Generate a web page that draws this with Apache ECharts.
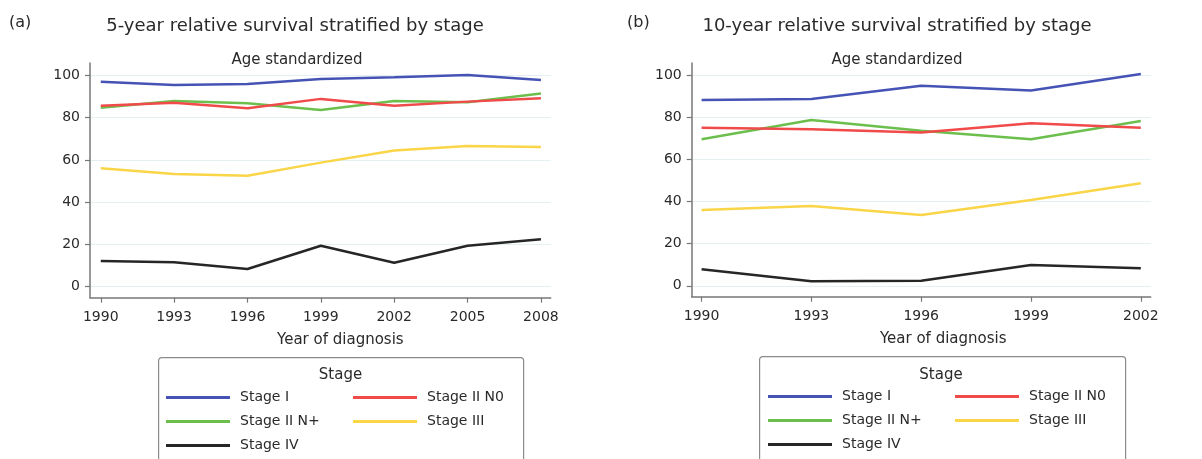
<!DOCTYPE html>
<html><head><meta charset="utf-8">
<script src="https://cdn.jsdelivr.net/npm/echarts@6/dist/echarts.min.js"></script>
<style>html,body{margin:0;padding:0;background:#fff}#c{width:1202px;height:459px}</style>
</head><body><div id="c"></div>
<script>
// ---- data ----
const stageNames = ['Stage I', 'Stage II N0', 'Stage II N+', 'Stage III', 'Stage IV'];
const yearsA = [1990, 1993, 1996, 1999, 2002, 2005, 2008];
const stageI_A   = [97.0, 95.5, 96.0, 98.3, 99.1, 100.2, 97.9];
const stageIIN0_A = [85.7, 87.1, 84.5, 88.9, 85.7, 87.6, 89.2];
const stageIINp_A = [84.7, 87.9, 86.8, 83.6, 87.9, 87.3, 91.5];
const stageIII_A = [56.0, 53.3, 52.5, 58.7, 64.4, 66.6, 66.1];
const stageIV_A  = [12.1, 11.5, 8.3, 19.3, 11.3, 19.3, 22.4];

const yearsB = [1990, 1993, 1996, 1999, 2002];
const stageI_B   = [88.4, 88.9, 95.2, 92.9, 100.8];
const stageIIN0_B = [75.2, 74.5, 72.9, 77.3, 75.2];
const stageIINp_B = [69.7, 78.9, 73.8, 69.7, 78.4];
const stageIII_B = [36.0, 37.9, 33.7, 40.8, 48.8];
const stageIV_B  = [7.9, 2.2, 2.4, 9.9, 8.3];

const yTicks = [0, 20, 40, 60, 80, 100];
const titleA = '5-year relative survival stratified by stage';
const titleB = '10-year relative survival stratified by stage';
const subTitle = 'Age standardized';
const xName = 'Year of diagnosis';
const legendTitle = 'Stage';

// ---- styles ----
const FONT = '"DejaVu Sans", sans-serif';
const colors = ['#4553b5', '#f04a4a', '#6cbf4c', '#fad548', '#262626'];
const axisCol = '#777777';
const textCol = '#2a2a2a';

const seriesA = [stageI_A, stageIIN0_A, stageIINp_A, stageIII_A, stageIV_A];
const seriesB = [stageI_B, stageIIN0_B, stageIINp_B, stageIII_B, stageIV_B];

function makeX(idx, years, min, max, namePadLeft) {
  return {
    type: 'value', gridIndex: idx, min: min, max: max,
    axisLine: { show: true, onZero: false, lineStyle: { color: axisCol, width: 1.5 } },
    axisTick: { show: true, length: 5, customValues: years, lineStyle: { color: axisCol, width: 1.2 } },
    axisLabel: { customValues: years, formatter: v => String(v), margin: 13,
      fontFamily: FONT, fontSize: 14, color: textCol },
    splitLine: { show: false },
    name: xName, nameLocation: 'middle', nameGap: 35,
    nameTextStyle: { fontFamily: FONT, fontSize: 15, color: textCol, padding: [0, 0, 0, namePadLeft] }
  };
}
function makeY(idx, min, max) {
  return {
    type: 'value', gridIndex: idx, min: min, max: max,
    axisLine: { show: true, onZero: false, lineStyle: { color: axisCol, width: 1.5 } },
    axisTick: { show: true, length: 5, customValues: yTicks, lineStyle: { color: axisCol, width: 1.2 } },
    axisLabel: { customValues: yTicks, margin: 10, fontFamily: FONT, fontSize: 14, color: textCol },
    splitLine: { show: true, lineStyle: { color: '#e4eff1', width: 1 } }
  };
}

const series = [];
stageNames.forEach((n, i) => {
  series.push({ name: n, type: 'line', xAxisIndex: 0, yAxisIndex: 0, symbol: 'none',
    data: yearsA.map((y, j) => [y, seriesA[i][j]]),
    lineStyle: { color: colors[i], width: 2.5 }, itemStyle: { color: colors[i] }, z: 10 - i });
  series.push({ name: n, type: 'line', xAxisIndex: 1, yAxisIndex: 1, symbol: 'none',
    data: yearsB.map((y, j) => [y, seriesB[i][j]]),
    lineStyle: { color: colors[i], width: 2.5 }, itemStyle: { color: colors[i] }, z: 10 - i });
});

function makeLegend(left, top) {
  return {
    data: stageNames, left: left, top: top, orient: 'horizontal', width: 372,
    itemWidth: 64, itemHeight: 3, icon: 'rect', itemGap: 9, padding: 0, selectedMode: false,
    textStyle: { fontFamily: FONT, fontSize: 14, color: textCol, width: 104, padding: [0, 0, 0, 5], lineHeight: 15 }
  };
}

function txt(x, y, text, size, align) {
  return { type: 'text', x: x, y: y, silent: true,
    style: { text: text, font: size + 'px ' + FONT, fill: textCol, align: align || 'center', verticalAlign: 'middle' } };
}

const option = {
  backgroundColor: '#ffffff',
  animation: false,
  grid: [
    { left: 90, top: 63, width: 460.7, height: 234.7, containLabel: false },
    { left: 691.7, top: 63, width: 459, height: 233.7, containLabel: false }
  ],
  xAxis: [makeX(0, yearsA, 1989.56, 2008.4, 40), makeX(1, yearsB, 1989.73, 2002.27, 44)],
  yAxis: [makeY(0, -5.3, 105.9), makeY(1, -5.2, 106)],
  legend: [makeLegend(166, 390), makeLegend(768, 389)],
  series: series,
  graphic: [
    txt(9, 23, '(a)', 16, 'left'),
    txt(627, 23, '(b)', 16, 'left'),
    txt(295, 26, titleA, 18),
    txt(897, 26, titleB, 18),
    txt(297, 60, subTitle, 15),
    txt(897, 60, subTitle, 15),
    { type: 'rect', left: 158, top: 357, shape: { width: 365, height: 130, r: 3 }, silent: true,
      style: { fill: 'transparent', stroke: '#8c8c8c', lineWidth: 1.2 } },
    { type: 'rect', left: 759, top: 356, shape: { width: 366, height: 130, r: 3 }, silent: true,
      style: { fill: 'transparent', stroke: '#8c8c8c', lineWidth: 1.2 } },
    txt(340.5, 375, legendTitle, 15),
    txt(941, 375, legendTitle, 15)
  ]
};

const chart = echarts.init(document.getElementById('c'), null, { renderer: 'canvas' });
chart.setOption(option);
</script>
</body></html>
